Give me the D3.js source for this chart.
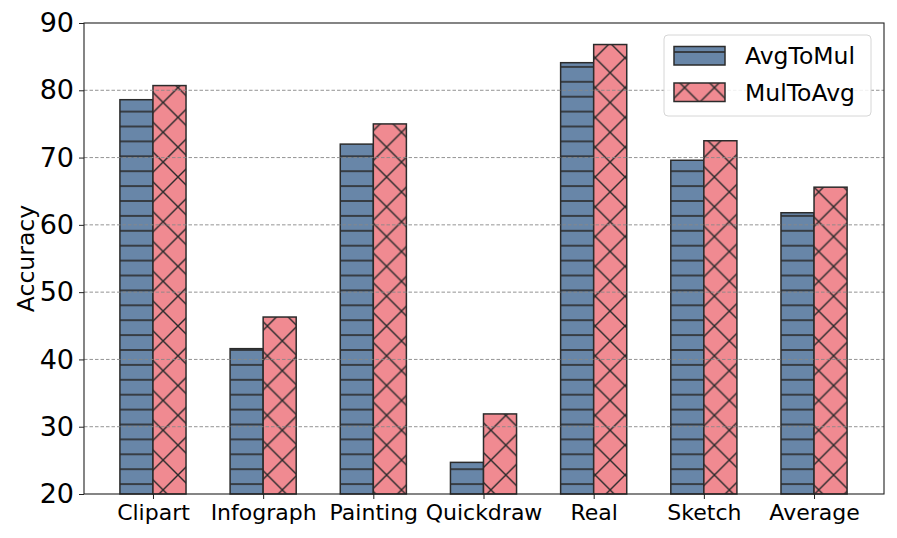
<!DOCTYPE html>
<html>
<head>
<meta charset="utf-8">
<script src="https://cdn.jsdelivr.net/npm/d3@7"></script>
<style>
  body { margin: 0; background: #fff; }
  text { font-family: "DejaVu Sans", sans-serif; }
</style>
</head>
<body>
<svg id="chart"></svg>
<script>
const categories = ["Clipart", "Infograph", "Painting", "Quickdraw", "Real", "Sketch", "Average"];
const avgToMul = [78.6, 41.6, 72.0, 24.7, 84.1, 69.6, 61.8];
const mulToAvg = [80.7, 46.3, 75.0, 31.9, 86.8, 72.5, 65.6];
const seriesNames = ["AvgToMul", "MulToAvg"];
const yTicks = [20, 30, 40, 50, 60, 70, 80, 90];

const svgWidth = 897, svgHeight = 538;
const plotLeft = 84, plotRight = 884, plotTop = 23, plotBottom = 494;
const barW = 0.3;

const svg = d3.select("#chart")
    .attr("width", svgWidth)
    .attr("height", svgHeight);

const defs = svg.append("defs");

// horizontal hatch for the blue series
const hp = defs.append("pattern")
    .attr("id", "hatchH")
    .attr("patternUnits", "userSpaceOnUse")
    .attr("x", 0).attr("y", 7.3)
    .attr("width", 30).attr("height", 14.9);
hp.append("rect").attr("width", 30).attr("height", 14.9).attr("fill", "#6886a8");
hp.append("line")
    .attr("x1", 0).attr("x2", 30).attr("y1", 0).attr("y2", 0)
    .attr("stroke", "#2b2b2b").attr("stroke-width", 1.6);
hp.append("line")
    .attr("x1", 0).attr("x2", 30).attr("y1", 14.9).attr("y2", 14.9)
    .attr("stroke", "#2b2b2b").attr("stroke-width", 1.6);

// cross hatch for the pink series
const xp = defs.append("pattern")
    .attr("id", "hatchX")
    .attr("patternUnits", "userSpaceOnUse")
    .attr("x", 29).attr("y", 28)
    .attr("width", 29.8).attr("height", 29.8);
xp.append("rect").attr("width", 29.8).attr("height", 29.8).attr("fill", "#f08a91");
[[0, 0, 29.8, 29.8], [0, 29.8, 29.8, 0], [-1, 1, 1, -1], [28.8, 30.8, 30.8, 28.8], [-1, 28.8, 1, 30.8], [28.8, -1, 30.8, 1]]
    .forEach(l => xp.append("line")
        .attr("x1", l[0]).attr("y1", l[1]).attr("x2", l[2]).attr("y2", l[3])
        .attr("stroke", "#2b2b2b").attr("stroke-width", 1.4));

const x = d3.scaleLinear()
    .domain([-0.626, 6.635])
    .range([plotLeft, plotRight]);

const y = d3.scaleLinear()
    .domain([20, 90])
    .range([plotBottom, plotTop]);

const barData = [];
categories.forEach((c, i) => {
    barData.push({ i: i, off: -barW, v: avgToMul[i], fill: "url(#hatchH)" });
    barData.push({ i: i, off: 0, v: mulToAvg[i], fill: "url(#hatchX)" });
});

svg.selectAll(".bar")
    .data(barData)
    .enter()
    .append("rect")
    .attr("class", "bar")
    .attr("x", d => x(d.i + d.off))
    .attr("y", d => y(d.v))
    .attr("width", d => x(d.i + d.off + barW) - x(d.i + d.off))
    .attr("height", d => y(20) - y(d.v))
    .attr("fill", d => d.fill)
    .attr("stroke", "#2b2b2b")
    .attr("stroke-width", 1.5);

// grid
svg.selectAll(".grid")
    .data(yTicks.slice(1, -1))
    .enter()
    .append("line")
    .attr("class", "grid")
    .attr("x1", plotLeft).attr("x2", plotRight)
    .attr("y1", d => y(d)).attr("y2", d => y(d))
    .attr("stroke", "#888")
    .attr("stroke-width", 0.9)
    .attr("stroke-dasharray", "3.5,2");

// axes
const yAxis = svg.append("g")
    .attr("transform", `translate(${plotLeft},0)`)
    .call(d3.axisLeft(y).tickValues(yTicks).tickSize(5).tickPadding(5).tickFormat(d3.format("d")));
yAxis.selectAll("text").attr("font-size", 27).attr("fill", "#000");

const xAxis = svg.append("g")
    .attr("transform", `translate(0,${plotBottom})`)
    .call(d3.axisBottom(x).tickValues(d3.range(categories.length)).tickSize(5).tickPadding(5.5)
        .tickFormat(i => categories[i]));
xAxis.selectAll("text").attr("font-size", 22).attr("fill", "#000");

svg.selectAll(".domain").remove();
svg.selectAll(".tick line").attr("stroke", "#222").attr("stroke-width", 1);

svg.append("rect")
    .attr("x", plotLeft).attr("y", plotTop)
    .attr("width", plotRight - plotLeft).attr("height", plotBottom - plotTop)
    .attr("fill", "none")
    .attr("stroke", "#222")
    .attr("stroke-width", 1.1);

svg.append("text")
    .text("Accuracy")
    .attr("transform", `translate(34,${(plotTop + plotBottom) / 2}) rotate(-90)`)
    .attr("text-anchor", "middle")
    .attr("font-size", 23.5)
    .attr("fill", "#000");

// legend
const legend = svg.append("g");
legend.append("rect")
    .attr("x", 664).attr("y", 35)
    .attr("width", 207).attr("height", 81)
    .attr("rx", 4)
    .attr("fill", "#fff")
    .attr("fill-opacity", 0.85)
    .attr("stroke", "#d6d6d6")
    .attr("stroke-width", 1);

const legendFills = ["url(#hatchH)", "url(#hatchX)"];
seriesNames.forEach((name, k) => {
    const cy = 56 + k * 36.5;
    legend.append("rect")
        .attr("x", 674).attr("y", cy - 9.5)
        .attr("width", 51).attr("height", 18.5)
        .attr("fill", legendFills[k])
        .attr("stroke", "#2b2b2b")
        .attr("stroke-width", 1.5);
    legend.append("text")
        .text(name)
        .attr("x", 745).attr("y", cy)
        .attr("dy", "0.36em")
        .attr("font-size", 23.5)
        .attr("fill", "#000");
});
</script>
</body>
</html>
